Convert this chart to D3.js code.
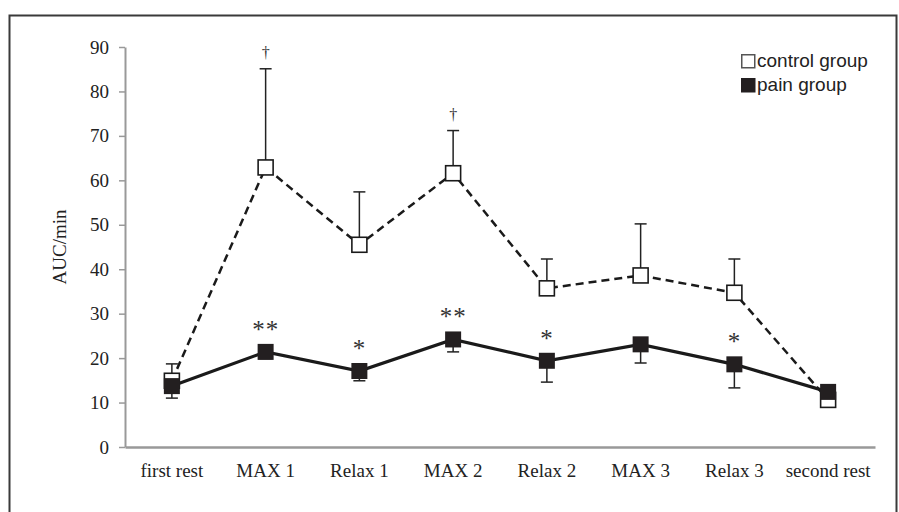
<!DOCTYPE html>
<html>
<head>
<meta charset="utf-8">
<script src="https://cdn.jsdelivr.net/npm/d3@7"></script>
<style>
  html, body { margin: 0; padding: 0; background: #fff; }
  svg { display: block; }
</style>
</head>
<body>
<svg id="chart" width="899" height="512"></svg>
<script>
// Phases of the protocol
const categories = ["first rest", "MAX 1", "Relax 1", "MAX 2", "Relax 2", "MAX 3", "Relax 3", "second rest"];

// Mean AUC/min per phase
const controlMean = [14.9, 62.9, 45.5, 61.6, 35.7, 38.6, 34.7, 10.6];
const controlErr  = [3.8, 22.2, 11.9, 9.6, 6.6, 11.6, 7.6, 0];
const painMean    = [13.7, 21.4, 17.1, 24.2, 19.4, 23.1, 18.6, 12.4];
const painErr     = [2.7, 1.5, 2.2, 2.8, 4.8, 4.2, 5.3, 0];

// Significance marks
const controlMarks = ["", "\u2020", "", "\u2020", "", "", "", ""];
const painMarks    = ["", "**", "*", "**", "*", "", "*", ""];

const yTicks = [0, 10, 20, 30, 40, 50, 60, 70, 80, 90];
const seriesNames = ["control group", "pain group"];

const svg = d3.select("#chart");
const serif = "'Liberation Serif', 'Times New Roman', serif";
const sans = "'Liberation Sans', Arial, sans-serif";

// Outer frame
svg.append("path")
  .attr("d", "M9.5,512 V15.5 H896.5 V512")
  .attr("fill", "none").attr("stroke", "#3a3a3a").attr("stroke-width", 2);

const x = d3.scaleBand().domain(categories).range([125, 875]);
const y = d3.scaleLinear().domain([0, 90]).range([447, 47]);
const cx = c => x(c) + x.bandwidth() / 2;

// Y axis
const yAxis = svg.append("g").attr("transform", "translate(125,0)")
  .call(d3.axisLeft(y).tickValues(yTicks).tickSize(6).tickSizeOuter(0).tickPadding(10));
yAxis.select(".domain").attr("stroke", "#999").attr("stroke-width", 2);
yAxis.selectAll(".tick line").attr("stroke", "#999").attr("stroke-width", 1.5);
yAxis.selectAll(".tick text").attr("font-family", serif).attr("font-size", 19).attr("fill", "#222");

// X axis
const xAxis = svg.append("g").attr("transform", "translate(0,447)")
  .call(d3.axisBottom(x).tickSize(0).tickSizeOuter(0).tickPadding(17));
xAxis.select(".domain").attr("stroke", "#999").attr("stroke-width", 2.5);
xAxis.selectAll(".tick text").attr("font-family", serif).attr("font-size", 19).attr("fill", "#222");

// Axis title
svg.append("text")
  .attr("transform", "translate(66,247) rotate(-90)")
  .attr("text-anchor", "middle")
  .attr("font-family", serif).attr("font-size", 19).attr("fill", "#222")
  .text("AUC/min");

const capW = 6;

// Control group: error bars (upward)
const cErr = svg.append("g").attr("stroke", "#222").attr("stroke-width", 1.5);
categories.forEach((c, i) => {
  if (!controlErr[i]) return;
  const top = y(controlMean[i] + controlErr[i]);
  cErr.append("line").attr("x1", cx(c)).attr("x2", cx(c)).attr("y1", y(controlMean[i])).attr("y2", top);
  cErr.append("line").attr("x1", cx(c) - capW).attr("x2", cx(c) + capW).attr("y1", top).attr("y2", top);
});

// Pain group: error bars (downward)
const pErr = svg.append("g").attr("stroke", "#222").attr("stroke-width", 1.5);
categories.forEach((c, i) => {
  if (!painErr[i]) return;
  const bot = y(painMean[i] - painErr[i]);
  pErr.append("line").attr("x1", cx(c)).attr("x2", cx(c)).attr("y1", y(painMean[i])).attr("y2", bot);
  pErr.append("line").attr("x1", cx(c) - capW).attr("x2", cx(c) + capW).attr("y1", bot).attr("y2", bot);
});

const line = d3.line().x((d, i) => cx(categories[i])).y(d => y(d));

svg.append("path").datum(controlMean).attr("d", line)
  .attr("fill", "none").attr("stroke", "#1a1a1a").attr("stroke-width", 2.5)
  .attr("stroke-dasharray", "8,5");

svg.append("path").datum(painMean).attr("d", line)
  .attr("fill", "none").attr("stroke", "#1a1a1a").attr("stroke-width", 3.2);

const sz = 15;
svg.append("g").selectAll("rect").data(controlMean).join("rect")
  .attr("x", (d, i) => cx(categories[i]) - sz / 2)
  .attr("y", d => y(d) - sz / 2)
  .attr("width", sz).attr("height", sz)
  .attr("fill", "#fff").attr("stroke", "#1a1a1a").attr("stroke-width", 1.6);

svg.append("g").selectAll("rect").data(painMean).join("rect")
  .attr("x", (d, i) => cx(categories[i]) - (sz + 1) / 2)
  .attr("y", d => y(d) - (sz + 1) / 2)
  .attr("width", sz + 1).attr("height", sz + 1)
  .attr("fill", "#231f20");

// Significance labels
svg.append("g").selectAll("text").data(controlMarks).join("text")
  .attr("x", (d, i) => cx(categories[i]))
  .attr("y", (d, i) => y(controlMean[i] + controlErr[i]) - 11)
  .attr("text-anchor", "middle")
  .attr("font-family", serif).attr("font-size", 16).attr("fill", "#333")
  .text(d => d);

svg.append("g").selectAll("text").data(painMarks).join("text")
  .attr("x", (d, i) => cx(categories[i]))
  .attr("y", (d, i) => y(painMean[i]) - 14)
  .attr("text-anchor", "middle")
  .attr("font-family", serif).attr("font-size", 25).attr("fill", "#333")
  .attr("letter-spacing", 1)
  .text(d => d);

// Legend
const legend = svg.append("g").attr("transform", "translate(741,54)");
seriesNames.forEach((name, i) => {
  const g = legend.append("g").attr("transform", `translate(0,${i * 24})`);
  g.append("rect").attr("x", 0.75).attr("y", 0.75).attr("width", 13).attr("height", 13)
    .attr("fill", i === 0 ? "#fff" : "#231f20")
    .attr("stroke", i === 0 ? "#555" : "#231f20").attr("stroke-width", 1.5);
  g.append("text").attr("x", 16).attr("y", 13)
    .attr("font-family", sans).attr("font-size", 19).attr("fill", "#222")
    .text(name);
});
</script>
</body>
</html>
